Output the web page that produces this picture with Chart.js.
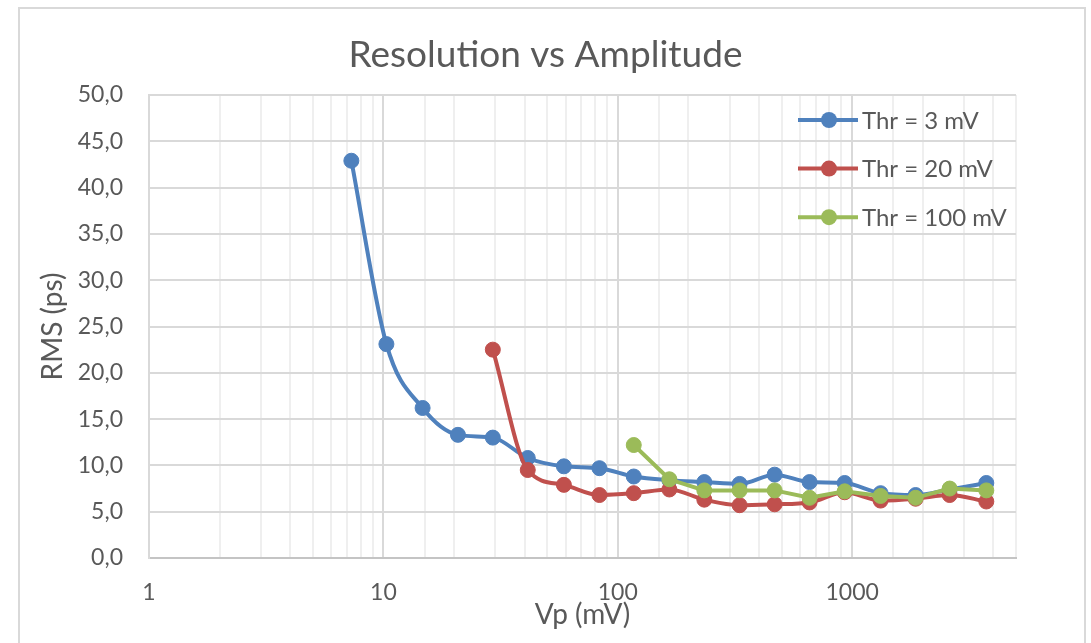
<!DOCTYPE html>
<html>
<head>
<meta charset="utf-8">
<title>Resolution vs Amplitude</title>
<script src="https://cdn.jsdelivr.net/npm/chart.js@4.4.0/dist/chart.umd.min.js"></script>
<style>
  html, body { margin: 0; padding: 0; background: #fff; overflow: hidden; }
  #frame { position: absolute; left: 18px; top: 7px; width: 1064px; height: 700px; border: 2px solid #d9d9d9; }
  #chartApi { position: absolute; left: 0; top: 0; }
</style>
</head>
<body>
<div id="frame"></div>
<canvas id="chartApi" width="1091" height="643"></canvas>
<script>
// amplitude steps (mV), shared by all three thresholds
const vp = [7.3, 10.3, 14.7, 20.8, 29.3, 41.3, 58.9, 83.5, 117, 166, 234, 331, 467, 658, 929, 1322, 1865, 2606, 3735];
// RMS (ps) per threshold; higher thresholds start at larger amplitudes
const rms3 = [42.9, 23.1, 16.2, 13.3, 13.0, 10.8, 9.9, 9.7, 8.8, 8.4, 8.2, 8.0, 9.0, 8.2, 8.1, 7.0, 6.8, 7.4, 8.1];
const rms20 = [22.5, 9.5, 7.9, 6.8, 7.0, 7.4, 6.3, 5.7, 5.8, 6.0, 7.1, 6.2, 6.4, 6.8, 6.1];
const rms100 = [12.2, 8.5, 7.3, 7.3, 7.3, 6.5, 7.2, 6.7, 6.5, 7.5, 7.3];
const seriesNames = ['Thr = 3 mV', 'Thr = 20 mV', 'Thr = 100 mV'];
const seriesColors = ['#4f81bd', '#c0504d', '#9bbb59'];
const decades = [1, 10, 100, 1000];

const grey = '#595959';
const fontName = 'Lato, "Open Sans", sans-serif';

function toPoints(vals) {
  let start = vp.length - vals.length;
  return vals.map((y, i) => ({ x: vp[start + i], y: y }));
}

function isDecade(v) {
  let l = Math.log10(v);
  return Math.abs(l - Math.round(l)) < 1e-9;
}

function makeSet(i, vals, smooth) {
  return {
    label: seriesNames[i],
    data: toPoints(vals),
    borderColor: seriesColors[i],
    backgroundColor: seriesColors[i],
    pointBackgroundColor: seriesColors[i],
    pointBorderColor: seriesColors[i],
    borderWidth: 4,
    pointRadius: 7.5,
    pointBorderWidth: 1,
    cubicInterpolationMode: smooth ? 'monotone' : 'default',
    tension: 0,
    order: 3 - i
  };
}

// legend drawn inside the plot, like the excel one
const insideLegend = {
  id: 'insideLegend',
  afterDraw(chart) {
    const c = chart.ctx;
    c.save();
    chart.data.datasets.forEach((ds, i) => {
      let y = 120 + i * 48.6;
      c.strokeStyle = ds.borderColor;
      c.lineWidth = 4;
      c.beginPath();
      c.moveTo(798, y);
      c.lineTo(858, y);
      c.stroke();
      c.fillStyle = ds.borderColor;
      c.beginPath();
      c.arc(829, y, 8, 0, Math.PI * 2);
      c.fill();
      c.fillStyle = grey;
      c.font = '24px ' + fontName;
      c.textBaseline = 'middle';
      c.textAlign = 'left';
      c.fillText(ds.label, 862, y + 1);
    });
    c.restore();
  }
};

let ctx = document.getElementById('chartApi').getContext('2d');

let myChart = new Chart(ctx, {
  type: 'line',
  data: {
    datasets: [makeSet(0, rms3, true), makeSet(1, rms20, true), makeSet(2, rms100, false)]
  },
  options: {
    responsive: false,
    animation: false,
    layout: { padding: 0 },
    plugins: {
      legend: { display: false },
      tooltip: { enabled: false },
      title: {
        display: true,
        text: 'Resolution vs Amplitude',
        color: grey,
        font: { family: fontName, size: 37, weight: 'normal' },
        padding: { top: 33, bottom: 17.6 }
      }
    },
    scales: {
      x: {
        type: 'logarithmic',
        min: 1,
        max: 5000,
        afterFit: s => { s.height = 85; },
        grid: {
          drawTicks: false,
          lineWidth: 2,
          color: c => (c.tick && isDecade(c.tick.value)) ? '#d9d9d9' : '#efefef'
        },
        border: { color: '#c4c4c4', width: 2 },
        ticks: {
          autoSkip: false,
          maxRotation: 0,
          padding: 21,
          color: grey,
          font: { family: fontName, size: 23 },
          callback: v => decades.includes(v) ? String(v) : ''
        },
        title: {
          display: true,
          text: 'Vp (mV)',
          color: grey,
          font: { family: fontName, size: 28 },
          padding: { top: 0, bottom: 11 }
        }
      },
      y: {
        min: 0,
        max: 50,
        afterFit: s => { s.width = 149; },
        grid: { drawTicks: false, lineWidth: 2, color: '#d9d9d9' },
        border: { color: '#d9d9d9', width: 2 },
        ticks: {
          stepSize: 5,
          padding: 26,
          color: grey,
          font: { family: fontName, size: 23 },
          callback: v => v.toFixed(1).replace('.', ',')
        },
        title: {
          display: true,
          text: 'RMS (ps)',
          color: grey,
          font: { family: fontName, size: 28 },
          padding: { top: 36, bottom: 0 }
        }
      },
      spare: {
        position: 'right',
        afterFit: s => { s.width = 75; },
        grid: { drawOnChartArea: false, drawTicks: false },
        border: { display: false },
        ticks: { display: false }
      }
    }
  },
  plugins: [insideLegend]
});
</script>
</body>
</html>
